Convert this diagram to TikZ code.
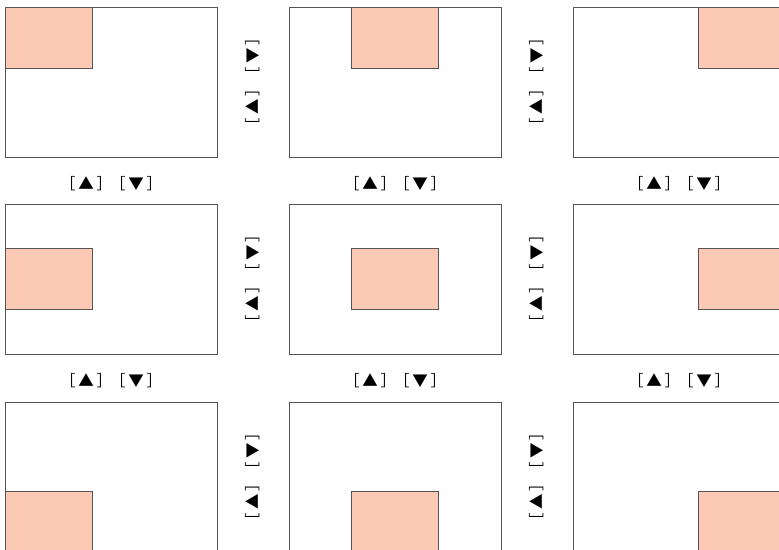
\documentclass[tikz,border=0pt]{standalone}
\usepackage{fontspec}
\newfontfamily\jpfont{Noto Sans CJK JP}
\usepackage{tikz}
\usetikzlibrary{calc}
\definecolor{salmon}{RGB}{251,201,180}
\definecolor{frame}{RGB}{85,85,85}
\newcommand{\keyup}{［\kern2pt▲\kern2pt］}
\newcommand{\keydown}{［\kern2pt▼\kern2pt］}

\begin{document}
\begin{tikzpicture}[x=0.025cm, y=-0.025cm,
    panel/.style={draw=frame, line width=0.7pt, fill=white, minimum width=5.3cm, minimum height=3.75cm, inner sep=0pt, outer sep=0pt},
    win/.style={draw=frame, line width=0.6pt, fill=salmon, minimum width=2.175cm, minimum height=1.525cm, inner sep=0pt, outer sep=0pt},
    key/.style={font=\jpfont\fontsize{11}{11}\selectfont, inner sep=0pt},
    vkey/.style={key, rotate=90}]
    \clip (0,0) rectangle (779,549);

    % Screens
    \node[panel, anchor=north west] (p11) at (5,7) {};
    \node[panel, anchor=north west] (p12) at (289,7) {};
    \node[panel, anchor=north west] (p13) at (573,7) {};
    \node[panel, anchor=north west] (p21) at (5,204) {};
    \node[panel, anchor=north west] (p22) at (289,204) {};
    \node[panel, anchor=north west] (p23) at (573,204) {};
    \node[panel, anchor=north west] (p31) at (5,402) {};
    \node[panel, anchor=north west] (p32) at (289,402) {};
    \node[panel, anchor=north west] (p33) at (573,402) {};

    % Window positions
    \node[win, anchor=north west] (w11) at (p11.north west) {};
    \node[win, anchor=north] (w12) at (p12.north) {};
    \node[win, anchor=north east] (w13) at (p13.north east) {};
    \node[win, anchor=west] (w21) at (p21.west) {};
    \node[win] (w22) at (p22.center) {};
    \node[win, anchor=east] (w23) at (p23.east) {};
    \node[win, anchor=south west] (w31) at (p31.south west) {};
    \node[win, anchor=south] (w32) at (p32.south) {};
    \node[win, anchor=south east] (w33) at (p33.south east) {};

    % Left / right keys (set sideways)
    \node[vkey] (r11) at ($(p11.east)!0.5!(p12.west)+(0,-26)$) {\keydown};
    \node[vkey] (l11) at ($(p11.east)!0.5!(p12.west)+(0,25)$) {\keyup};
    \node[vkey] (r12) at ($(p12.east)!0.5!(p13.west)+(0,-26)$) {\keydown};
    \node[vkey] (l12) at ($(p12.east)!0.5!(p13.west)+(0,25)$) {\keyup};
    \node[vkey] (r21) at ($(p21.east)!0.5!(p22.west)+(0,-26)$) {\keydown};
    \node[vkey] (l21) at ($(p21.east)!0.5!(p22.west)+(0,25)$) {\keyup};
    \node[vkey] (r22) at ($(p22.east)!0.5!(p23.west)+(0,-26)$) {\keydown};
    \node[vkey] (l22) at ($(p22.east)!0.5!(p23.west)+(0,25)$) {\keyup};
    \node[vkey] (r31) at ($(p31.east)!0.5!(p32.west)+(0,-26)$) {\keydown};
    \node[vkey] (l31) at ($(p31.east)!0.5!(p32.west)+(0,25)$) {\keyup};
    \node[vkey] (r32) at ($(p32.east)!0.5!(p33.west)+(0,-26)$) {\keydown};
    \node[vkey] (l32) at ($(p32.east)!0.5!(p33.west)+(0,25)$) {\keyup};

    % Up / down keys
    \node[key] (u11) at ($(p11.south)+(-25,27)$) {\keyup};
    \node[key] (d11) at ($(p11.south)+(25,27)$) {\keydown};
    \node[key] (u12) at ($(p12.south)+(-25,27)$) {\keyup};
    \node[key] (d12) at ($(p12.south)+(25,27)$) {\keydown};
    \node[key] (u13) at ($(p13.south)+(-25,27)$) {\keyup};
    \node[key] (d13) at ($(p13.south)+(25,27)$) {\keydown};
    \node[key] (u21) at ($(p21.south)+(-25,27)$) {\keyup};
    \node[key] (d21) at ($(p21.south)+(25,27)$) {\keydown};
    \node[key] (u22) at ($(p22.south)+(-25,27)$) {\keyup};
    \node[key] (d22) at ($(p22.south)+(25,27)$) {\keydown};
    \node[key] (u23) at ($(p23.south)+(-25,27)$) {\keyup};
    \node[key] (d23) at ($(p23.south)+(25,27)$) {\keydown};
\end{tikzpicture}
\end{document}
